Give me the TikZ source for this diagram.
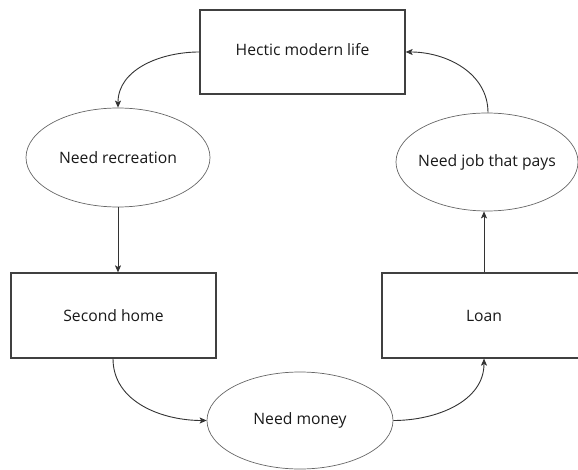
\documentclass[tikz,border=0pt]{standalone}
\usepackage{fontspec}
\setmainfont{Open Sans}
\usetikzlibrary{shapes.geometric,arrows.meta}
\newcommand{\ovaltext}[1]{\makebox[0pt]{#1}}
\begin{document}
\begin{tikzpicture}[x=1pt,y=-1pt,
  every node/.style={font=\fontsize{15.7}{19}\selectfont, text=black!90},
  box/.style={draw=black!75, line width=1.2pt, rectangle, inner sep=0pt},
  oval/.style={draw=black!60, line width=0.7pt, ellipse, inner sep=0pt},
  conn/.style={draw=black!80, line width=0.9pt, -{Stealth[length=7pt,width=6pt,inset=1.5pt]}}]
\useasboundingbox (0,0) rectangle (578,470);
\clip (0,0) rectangle (578,470);
\node[box, minimum width=205pt, minimum height=84pt] (hectic) at (302.5,52) {\raisebox{6pt}{Hectic modern life}};
\node[oval, minimum width=184pt, minimum height=99pt] (recreation) at (118,157.5) {\ovaltext{Need recreation}};
\node[box, minimum width=205pt, minimum height=85pt] (second) at (113.5,315.5) {Second home};
\node[oval, minimum width=186pt, minimum height=97pt] (money) at (300,420.5) {\ovaltext{Need money}};
\node[box, minimum width=204pt, minimum height=85pt] (loan) at (484,315.5) {Loan};
\node[oval, minimum width=182pt, minimum height=98pt] (job) at (487,162) {\ovaltext{Need job that pays}};
\draw[conn] (hectic.west) to[out=180,in=90] (recreation.north);
\draw[conn] (recreation.south) -- (recreation.south |- second.north);
\draw[conn] ([xshift=-0.5pt]second.south) to[out=-90,in=180] (money.west);
\draw[conn] (money.east) to[out=0,in=-90] (loan.south);
\draw[conn] (loan.north) -- (loan.north |- job.south);
\draw[conn] ([xshift=1pt]job.north) to[out=90,in=0] (hectic.east);
\end{tikzpicture}
\end{document}
